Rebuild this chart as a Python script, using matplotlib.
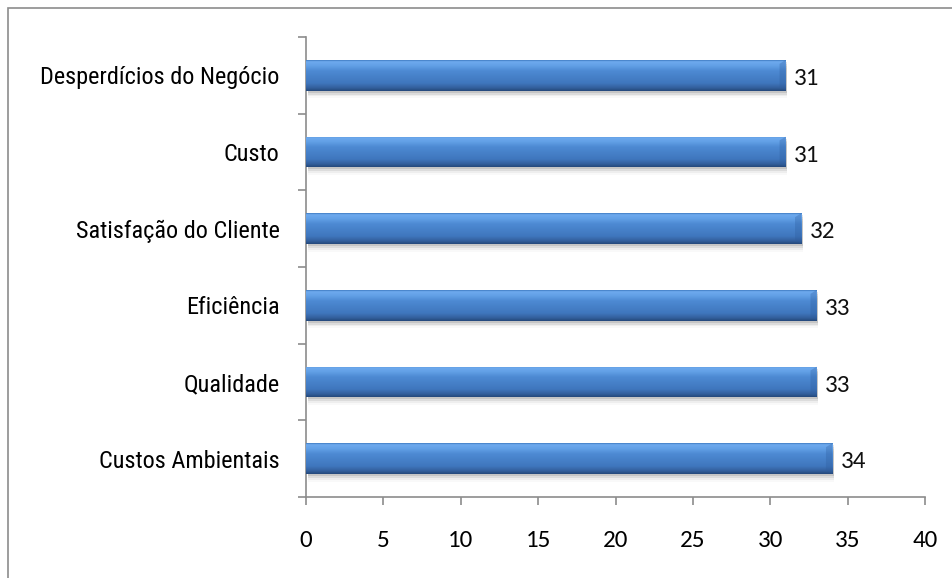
import numpy as np
import matplotlib
matplotlib.use("Agg")
import matplotlib.pyplot as plt
from matplotlib.colors import LinearSegmentedColormap
from matplotlib.patches import Rectangle, Polygon

# categories listed bottom to top
categorias = ["Custos Ambientais", "Qualidade", "Eficiência",
              "Satisfação do Cliente", "Custo", "Desperdícios do Negócio"]
valores = [34, 33, 33, 32, 31, 31]
xticks = [0, 5, 10, 15, 20, 25, 30, 35, 40]

NUM_FONT = ["Carlito", "DejaVu Sans"]
CAT_FONT = ["Roboto Condensed", "Liberation Sans", "DejaVu Sans"]

W, H = 953, 578
fig = plt.figure(figsize=(W / 100, H / 100), dpi=100)

# outer chart frame (cut on the right and bottom)
fig.patches.append(Rectangle((8 / W, -0.1), 1.2, 1 - 8 / H + 0.1,
                             transform=fig.transFigure, fill=False,
                             edgecolor="#8c8c8c", linewidth=1.2))

ax = fig.add_axes([306 / W, 1 - 497 / H, 619 / W, 460 / H])

# blue bevel gradient, top (light) to bottom (dark)
azul = LinearSegmentedColormap.from_list("azul", [
    (0.0, "#3c78c0"), (0.05, "#6eaaee"), (0.18, "#62a0e6"),
    (0.35, "#4d8ad3"), (0.75, "#3f76bd"), (0.9, "#335f9c"), (1.0, "#24487a")])
grad = np.linspace(0, 1, 256).reshape(-1, 1)

altura = 0.4
y = np.arange(len(categorias))
bars = ax.barh(y, valores, height=altura, color="#4a86d0", zorder=3)

for b, v in zip(bars, valores):
    x0, y0 = b.get_x(), b.get_y()
    w, h = b.get_width(), b.get_height()
    # soft shadow under the bar
    for k, a in enumerate([0.10, 0.07, 0.045, 0.025]):
        ax.add_patch(Rectangle((x0 + 0.1, y0 - 0.025 * (k + 1)), w, h,
                               facecolor="#000000", alpha=a, linewidth=0, zorder=2))
    im = ax.imshow(grad, cmap=azul, aspect="auto", origin="upper",
                   extent=[x0, x0 + w, y0, y0 + h], zorder=4)
    im.set_clip_path(b)
    # bevelled right end
    x1 = x0 + w
    ax.add_patch(Polygon([(x1 - 0.4, y0 + 0.05), (x1 - 0.4, y0 + h - 0.05),
                          (x1, y0 + h), (x1, y0)],
                         closed=True, facecolor="#2d5c9c", alpha=0.3,
                         linewidth=0, zorder=5))
    ax.text(x1 + 0.55, y0 + h / 2 - 0.04, str(v), ha="left", va="center",
            fontsize=18, family=NUM_FONT, color="#111111", zorder=6)

ax.set_xlim(0, 40)
ax.set_ylim(-0.5, len(categorias) - 0.5)
ax.set_xticks(xticks)
ax.set_xticklabels([str(t) for t in xticks], fontsize=18, family=NUM_FONT)

# boundary ticks between categories, labels at the centres
ax.set_yticks(np.arange(-0.5, len(categorias), 1.0))
ax.set_yticklabels([])
ax.set_yticks(y, minor=True)
ax.set_yticklabels(categorias, minor=True, fontsize=17.5, family=CAT_FONT)
ax.tick_params(axis="y", which="minor", length=0, pad=19)
ax.tick_params(axis="y", which="major", length=6, width=1.2, color="#8c8c8c")
ax.tick_params(axis="x", length=6, width=1.2, color="#8c8c8c", pad=18)

for s in ["top", "right"]:
    ax.spines[s].set_visible(False)
for s in ["left", "bottom"]:
    ax.spines[s].set_color("#8c8c8c")
    ax.spines[s].set_linewidth(1.2)

fig.savefig("out.png", dpi=100)
